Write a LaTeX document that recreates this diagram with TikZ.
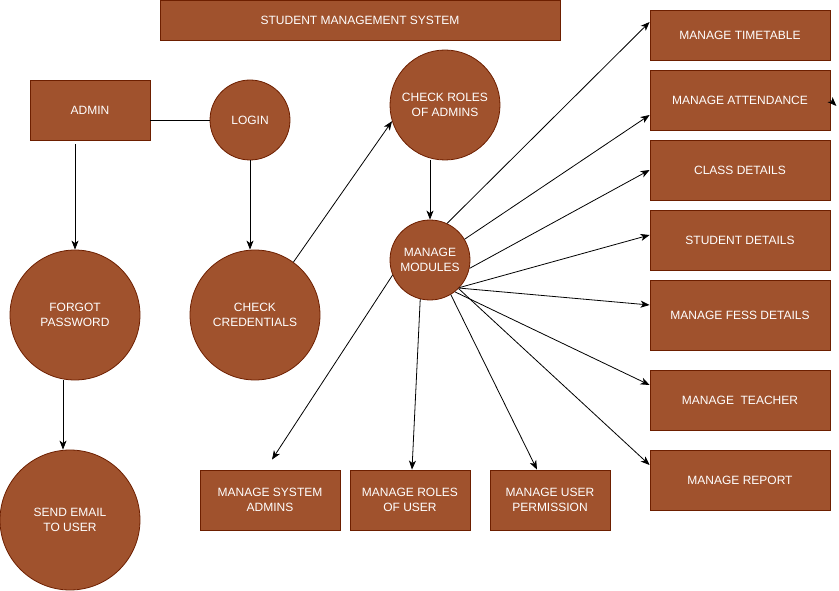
\documentclass[tikz,border=0pt]{standalone}
\usepackage{fontspec}
\setmainfont{Liberation Sans}
\usetikzlibrary{arrows.meta,positioning,calc}
\definecolor{boxfill}{RGB}{160,82,45}
\definecolor{boxline}{RGB}{109,31,0}
\tikzset{
  shapebase/.style = {fill=boxfill, draw=boxline, line width=0.8pt, text=white,
                      align=center, inner sep=0pt,
                      font=\fontsize{12}{14.5}\selectfont},
  procbox/.style   = {shapebase, rectangle, minimum width=180pt, minimum height=60pt},
  proccirc/.style  = {shapebase, circle},
  conn/.style      = {-{Stealth[length=9pt,width=7pt,inset=2.5pt]},
                      line width=0.8pt, draw=black},
  plain/.style     = {line width=0.8pt, draw=black}
}

\begin{document}
\begin{tikzpicture}[x=1pt,y=-1pt]
\useasboundingbox (0,0) rectangle (839,591);

% title
\node[procbox, minimum width=400pt, minimum height=40pt] (title) at (360,20) {STUDENT MANAGEMENT SYSTEM};

% -------------------- Left part --------------------
\node[procbox, minimum width=120pt] (admin) at (90,110) {ADMIN};
\node[proccirc, minimum size=80pt]  (login) at (250,120) {LOGIN};
\node[proccirc, minimum size=130pt] (forgot) at (75,315) {FORGOT\\ PASSWORD};
\node[proccirc, minimum size=130pt] (credcheck) at (255,315) {CHECK\\ CREDENTIALS};
\node[proccirc, minimum size=140pt] (sendmail) at (70,520) {SEND EMAIL\\ TO USER};

% -------------------- Middle part --------------------
\node[proccirc, minimum size=110pt] (rolecheck) at (445,105) {CHECK ROLES\\ OF ADMINS};
\node[proccirc, minimum size=80pt]  (modules) at (430,260) {MANAGE\\ MODULES};

% right column: y / height / text
\foreach \y/\h/\name [count=\n] in {35/50/{MANAGE TIMETABLE}, 100/60/{MANAGE ATTENDANCE},
                                    170/60/{CLASS DETAILS}, 240/60/{STUDENT DETAILS},
                                    315/70/{MANAGE FESS DETAILS}, 400/60/{MANAGE\ \ TEACHER},
                                    480/60/{MANAGE REPORT}}{
  \node[procbox, minimum height=\h] (r\n) at (740,\y) {\name};
}

% bottom row: x / width / text
\foreach \x/\w/\name [count=\n] in {270/140/{MANAGE SYSTEM\\ ADMINS}, 410/120/{MANAGE ROLES\\ OF USER},
                                    550/120/{MANAGE USER\\ PERMISSION}}{
  \node[procbox, minimum width=\w] (b\n) at (\x,500) {\name};
}

% -------------------- Connections --------------------
\draw[plain] ($(admin.east)+(0,10)$) -- (login.west);
\draw[conn] ($(admin.south)+(-15,4)$) -- (forgot.north);
\draw[conn] (login.south) -- (login.south |- credcheck.north);
\draw[conn] ($(forgot.south)+(-12,0)$) -- ($(sendmail.north)+(-7,0)$);
\draw[conn] (credcheck.54) -- (rolecheck.197);
\draw[conn] (rolecheck.south -| modules.north) -- (modules.north);

% modules -> right column (start angle / end shift)
\foreach \ang/\dy [count=\n] in {65/-13, 31/15, -12/0, -43/-5, -44/-10, -52/-15, -45/-15}{
  \draw[conn] (modules.\ang) -- ($(r\n.west)+(0,\dy)$);
}

% modules -> bottom row
\draw[conn] (modules.-158) -- ($(b1.north)+(2,-10)$);
\draw[conn] (modules.-104) -- ($(b2.north)+(2,0)$);
\draw[conn] (modules.-59) -- ($(b3.north)+(-13,0)$);

% stray tip at attendance box
\draw[conn] (r2.east) -- ++(6,6);

\end{tikzpicture}
\end{document}
